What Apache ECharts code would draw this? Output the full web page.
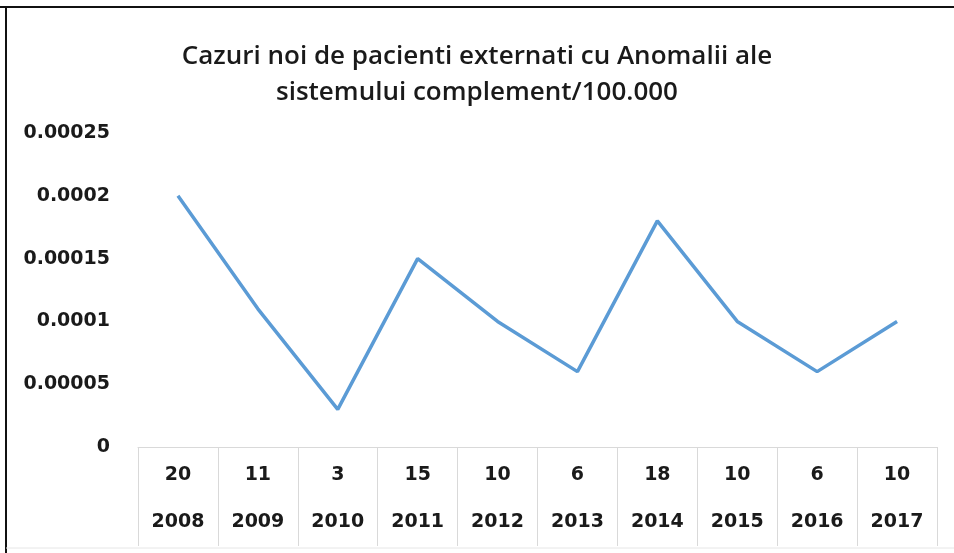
<!DOCTYPE html>
<html>
<head>
<meta charset="utf-8">
<script src="https://cdn.jsdelivr.net/npm/echarts@6/dist/echarts.min.js"></script>
<style>
html,body{margin:0;padding:0;background:#fff;}
#chart{width:954px;height:553px;}
</style>
</head>
<body>
<div id="chart"></div>
<script>
const titleText = 'Cazuri noi de pacienti externati cu Anomalii ale\nsistemului complement/100.000';
const years = ['2008','2009','2010','2011','2012','2013','2014','2015','2016','2017'];
const counts = ['20','11','3','15','10','6','18','10','6','10'];
const rates = [0.0002, 0.00011, 0.00003, 0.00015, 0.0001, 0.00006, 0.00018, 0.0001, 0.00006, 0.0001];
const yTicks = { min: 0, max: 0.00025, interval: 0.00005 };

const chart = echarts.init(document.getElementById('chart'));
const labelFont = 'DejaVu Sans';
chart.setOption({
  animation: false,
  backgroundColor: '#ffffff',
  title: {
    text: titleText,
    left: 'center',
    top: 34,
    textStyle: {
      fontFamily: 'Open Sans',
      fontSize: 26,
      fontWeight: 600,
      color: '#1a1a1a',
      lineHeight: 36
    }
  },
  grid: { left: 138, right: 17, top: 133, bottom: 106, containLabel: false },
  xAxis: {
    type: 'category',
    data: years,
    boundaryGap: true,
    axisLine: { show: true, lineStyle: { color: '#d9d9d9', width: 1 } },
    axisTick: { show: true, length: 99, lineStyle: { color: '#d9d9d9', width: 1 } },
    axisLabel: {
      margin: 5,
      interval: 0,
      formatter: function (v, i) { return '{a|' + counts[i] + '}\n{b|' + v + '}'; },
      rich: {
        a: { fontFamily: labelFont, fontWeight: 'bold', fontSize: 19, color: '#1a1a1a', lineHeight: 47 },
        b: { fontFamily: labelFont, fontWeight: 'bold', fontSize: 19, color: '#1a1a1a', lineHeight: 47 }
      }
    }
  },
  yAxis: {
    type: 'value',
    min: yTicks.min,
    max: yTicks.max,
    interval: yTicks.interval,
    splitLine: { show: false },
    axisLine: { show: false },
    axisTick: { show: false },
    axisLabel: {
      margin: 28,
      fontFamily: labelFont,
      fontWeight: 'bold',
      fontSize: 19,
      color: '#1a1a1a',
      formatter: function (v) { return String(+v.toFixed(6)); }
    }
  },
  series: [{
    type: 'line',
    data: rates,
    symbol: 'none',
    lineStyle: { color: '#5b9bd5', width: 3.5 },
    itemStyle: { color: '#5b9bd5' }
  }],
  graphic: [
    { type: 'line', shape: { x1: 0, y1: 7, x2: 954, y2: 7 }, style: { stroke: '#111', lineWidth: 2 } },
    { type: 'line', shape: { x1: 6, y1: 7, x2: 6, y2: 553 }, style: { stroke: '#111', lineWidth: 2 } },
    { type: 'line', shape: { x1: 6, y1: 548, x2: 954, y2: 548 }, style: { stroke: '#e6e6e6', lineWidth: 1 } }
  ]
});
</script>
</body>
</html>
